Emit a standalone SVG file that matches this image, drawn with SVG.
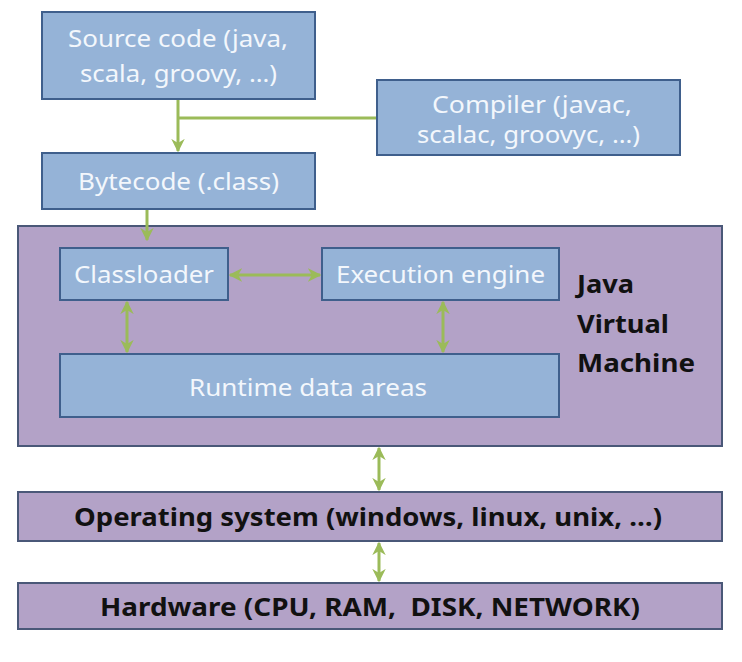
<svg xmlns="http://www.w3.org/2000/svg" width="742" height="662" viewBox="0 0 742 662">
<defs>
<style>
.blue{fill:#95b3d7;stroke:#3f5f8c;stroke-width:2}
.purple{fill:#b3a2c7;stroke:#4a5878;stroke-width:2}
.wt{font-family:"Noto Sans","Liberation Sans",sans-serif;font-size:24px;fill:#f3f7fc}
.bt{font-family:"Noto Sans","Liberation Sans",sans-serif;font-size:25px;font-weight:bold;fill:#111}
.ln{stroke:#9bbb59;stroke-width:3;fill:none}
</style>
<marker id="ah" viewBox="0 0 10 10" refX="9" refY="5" markerWidth="4.5" markerHeight="4.5" orient="auto-start-reverse">
<path d="M0,0 L10,5 L0,10 L3,5 Z" fill="#9bbb59"/>
</marker>
</defs>
<rect width="742" height="662" fill="#ffffff"/>

<g id="jvm">
<rect class="purple" x="18" y="226" width="704" height="220"/>
<text class="bt" x="577" y="293" textLength="57" lengthAdjust="spacingAndGlyphs">Java</text>
<text class="bt" x="577" y="333" textLength="92" lengthAdjust="spacingAndGlyphs">Virtual</text>
<text class="bt" x="577" y="372" textLength="118" lengthAdjust="spacingAndGlyphs">Machine</text>
</g>

<g id="source">
<rect class="blue" x="42" y="12" width="273" height="87"/>
<text class="wt" x="68" y="47" textLength="220" lengthAdjust="spacingAndGlyphs">Source code (java,</text>
<text class="wt" x="80" y="82" textLength="197" lengthAdjust="spacingAndGlyphs">scala, groovy, …)</text>
</g>

<g id="compiler">
<rect class="blue" x="377" y="80" width="303" height="75"/>
<text class="wt" x="432" y="113" textLength="200" lengthAdjust="spacingAndGlyphs">Compiler (javac,</text>
<text class="wt" x="417" y="143" textLength="223" lengthAdjust="spacingAndGlyphs">scalac, groovyc, …)</text>
</g>

<g id="bytecode">
<rect class="blue" x="42" y="153" width="273" height="56"/>
<text class="wt" x="78" y="190" textLength="201" lengthAdjust="spacingAndGlyphs">Bytecode (.class)</text>
</g>

<g id="classloader">
<rect class="blue" x="60" y="248" width="168" height="52"/>
<text class="wt" x="74" y="283" textLength="140" lengthAdjust="spacingAndGlyphs">Classloader</text>
</g>

<g id="engine">
<rect class="blue" x="322" y="248" width="237" height="52"/>
<text class="wt" x="336" y="283" textLength="209" lengthAdjust="spacingAndGlyphs">Execution engine</text>
</g>

<g id="runtime">
<rect class="blue" x="60" y="354" width="499" height="63"/>
<text class="wt" x="189" y="396" textLength="238" lengthAdjust="spacingAndGlyphs">Runtime data areas</text>
</g>

<g id="os">
<rect class="purple" x="18" y="492" width="704" height="49"/>
<text class="bt" x="74" y="526" textLength="588" lengthAdjust="spacingAndGlyphs">Operating system (windows, linux, unix, …)</text>
</g>

<g id="hardware">
<rect class="purple" x="18" y="583" width="704" height="46"/>
<text class="bt" x="100" y="616" textLength="540" lengthAdjust="spacingAndGlyphs">Hardware (CPU, RAM,&#160; DISK, NETWORK)</text>
</g>

<g id="connectors">
<line class="ln" x1="178" y1="100" x2="178" y2="151" marker-end="url(#ah)"/>
<line class="ln" x1="178" y1="118" x2="376" y2="118"/>
<line class="ln" x1="147" y1="210" x2="147" y2="240" stroke-width="2" marker-end="url(#ah)"/>
<line class="ln" x1="230" y1="275" x2="320" y2="275" marker-start="url(#ah)" marker-end="url(#ah)"/>
<line class="ln" x1="127" y1="302" x2="127" y2="352" marker-start="url(#ah)" marker-end="url(#ah)"/>
<line class="ln" x1="443" y1="302" x2="443" y2="352" marker-start="url(#ah)" marker-end="url(#ah)"/>
<line class="ln" x1="379" y1="448" x2="379" y2="490" marker-start="url(#ah)" marker-end="url(#ah)"/>
<line class="ln" x1="379" y1="543" x2="379" y2="581" marker-start="url(#ah)" marker-end="url(#ah)"/>
</g>
</svg>
